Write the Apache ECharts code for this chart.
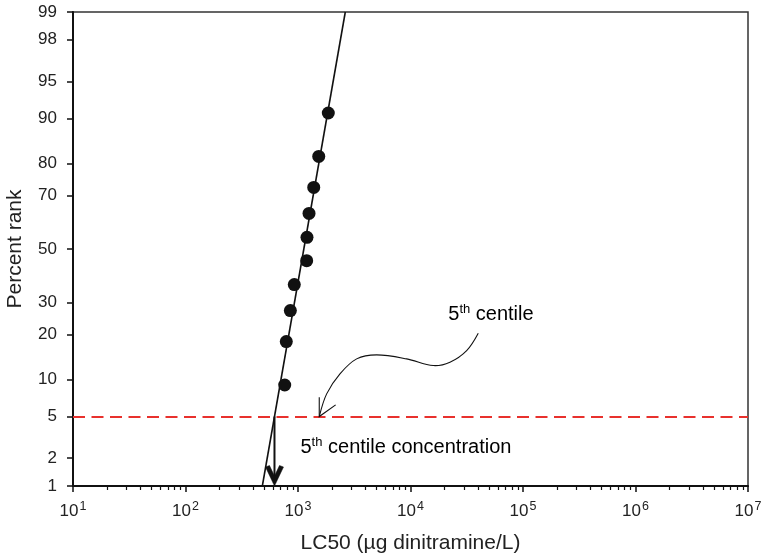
<!DOCTYPE html>
<html>
<head>
<meta charset="utf-8">
<script src="https://cdn.jsdelivr.net/npm/echarts@6/dist/echarts.min.js"></script>
<style>
html,body{margin:0;padding:0;background:#fff;}
#chart{width:763px;height:559px;}
</style>
</head>
<body>
<div id="chart"></div>
<script>
// ---- data ----
const lc50Values = [762, 787, 855, 927, 1194, 1202, 1253, 1380, 1529, 1859];   // µg dinitramine/L
const percentRanks = [9.09, 18.18, 27.27, 36.36, 45.45, 54.55, 63.64, 72.73, 81.82, 90.91];
const fitLineX = [482, 2633];       // fitted distribution line ends
const fitLineP = [1, 99];
const yTickPercents = [1, 2, 5, 10, 20, 30, 50, 70, 80, 90, 95, 98, 99];
const xTickExponents = [1, 2, 3, 4, 5, 6, 7];
const centilePercent = 5;
const hc5Value = 618;                // 5th centile concentration
const calloutTip = [1545, 5];        // where the curved arrow points (x, percent)

// inverse normal CDF (probability axis transform)
function probit(p) {
  const a = [-3.969683028665376e+01, 2.209460984245205e+02, -2.759285104469687e+02, 1.383577518672690e+02, -3.066479806614716e+01, 2.506628277459239e+00];
  const b = [-5.447609879822406e+01, 1.615858368580409e+02, -1.556989798598866e+02, 6.680131188771972e+01, -1.328068155288572e+01];
  const c = [-7.784894002430293e-03, -3.223964580411365e-01, -2.400758277161838e+00, -2.549732539343734e+00, 4.374664141464968e+00, 2.938163982698783e+00];
  const d = [7.784695709041462e-03, 3.224671290700398e-01, 2.445134137142996e+00, 3.754408661907416e+00];
  const pl = 0.02425, ph = 1 - pl;
  let q, r;
  if (p < pl) { q = Math.sqrt(-2 * Math.log(p)); return (((((c[0]*q+c[1])*q+c[2])*q+c[3])*q+c[4])*q+c[5]) / ((((d[0]*q+d[1])*q+d[2])*q+d[3])*q+1); }
  if (p <= ph) { q = p - 0.5; r = q*q; return (((((a[0]*r+a[1])*r+a[2])*r+a[3])*r+a[4])*r+a[5])*q / (((((b[0]*r+b[1])*r+b[2])*r+b[3])*r+b[4])*r+1); }
  q = Math.sqrt(-2 * Math.log(1 - p)); return -(((((c[0]*q+c[1])*q+c[2])*q+c[3])*q+c[4])*q+c[5]) / ((((d[0]*q+d[1])*q+d[2])*q+d[3])*q+1);
}
const z = pct => probit(pct / 100);

const yTickZ = yTickPercents.map(z);
const minorLog = [];
xTickExponents.slice(0, -1).forEach(e => { for (let k = 2; k <= 9; k++) minorLog.push(e + Math.log10(k)); });

const FONT = "'Liberation Sans', Arial, Helvetica, sans-serif";
const TXT = '#222';

const chart = echarts.init(document.getElementById('chart'), null, {renderer: 'canvas'});
const yMin = z(1), yMax = z(99);

chart.setOption({
  animation: false,
  backgroundColor: '#fff',
  textStyle: {fontFamily: FONT},
  grid: {left: 73, right: 15, top: 12, bottom: 73, containLabel: false, outerBoundsMode: 'none',
         show: true, borderColor: '#333', borderWidth: 1.5},
  xAxis: [{
    type: 'log', logBase: 10, min: 10, max: 1e7,
    name: 'LC50 (µg dinitramine/L)', nameLocation: 'middle', nameGap: 47,
    nameTextStyle: {fontSize: 21, color: TXT, fontFamily: FONT},
    axisLine: {show: true, onZero: false, lineStyle: {color: '#111', width: 2}},
    axisTick: {show: true, length: 6, lineStyle: {color: '#111', width: 1.5}},
    splitLine: {show: false},
    axisLabel: {
      margin: 14, color: TXT,
      formatter: v => '{b|10}{s|' + Math.round(Math.log10(v)) + '}',
      rich: {
        b: {fontSize: 17, fontFamily: FONT, color: TXT},
        s: {fontSize: 12.5, fontFamily: FONT, color: TXT, padding: [0, 0, 10, 1]}
      }
    }
  }, {
    type: 'value', min: 1, max: 7, position: 'bottom', offset: 0,
    axisLine: {show: false, onZero: false}, axisLabel: {show: false}, splitLine: {show: false},
    axisTick: {show: true, length: 4, customValues: minorLog, lineStyle: {color: '#111', width: 1.2}}
  }],
  yAxis: {
    type: 'value', min: yMin, max: yMax,
    name: 'Percent rank', nameLocation: 'middle', nameGap: 47,
    nameTextStyle: {fontSize: 21, color: TXT, fontFamily: FONT},
    axisLine: {show: true, onZero: false, lineStyle: {color: '#111', width: 2}},
    axisTick: {show: true, length: 6, customValues: yTickZ, lineStyle: {color: '#111', width: 1.5}},
    splitLine: {show: false},
    axisLabel: {
      margin: 16, fontSize: 17, color: TXT, fontFamily: FONT, customValues: yTickZ,
      formatter: v => {
        let best = 0;
        yTickZ.forEach((t, i) => { if (Math.abs(t - v) < Math.abs(yTickZ[best] - v)) best = i; });
        return String(yTickPercents[best]);
      }
    }
  },
  series: [{
    type: 'line', xAxisIndex: 0,
    data: fitLineX.map((x, i) => [x, z(fitLineP[i])]),
    showSymbol: false, symbol: 'none',
    lineStyle: {color: '#111', width: 1.6},
    z: 3
  }, {
    type: 'scatter', xAxisIndex: 0,
    data: lc50Values.map((x, i) => [x, z(percentRanks[i])]),
    symbol: 'circle', symbolSize: 13,
    itemStyle: {color: '#111', opacity: 1},
    z: 4,
    markLine: {
      silent: true, animation: false,
      label: {show: false},
      symbol: 'none',
      data: [
        [{coord: [10, z(centilePercent)], lineStyle: {color: '#e8312d', width: 2, type: [12, 6.5]}},
         {coord: [1e7, z(centilePercent)]}]
      ]
    }
  }]
});

// annotations anchored in data coordinates
function drawAnnotations() {
  const tip = chart.convertToPixel({xAxisIndex: 0, yAxisIndex: 0}, [calloutTip[0], z(calloutTip[1])]);
  const hc5 = chart.convertToPixel({xAxisIndex: 0, yAxisIndex: 0}, [hc5Value, z(centilePercent)]);
  const hc5Bottom = chart.convertToPixel({xAxisIndex: 0, yAxisIndex: 0}, [hc5Value, z(1)]);
  const curve = [[159, -83.4], [147.4, -66], [130.7, -54.4], [114, -51], [87.4, -57.7], [57.4, -61.7], [37.4, -57.7], [20.7, -42.7], [7.4, -22.7], [0, 0]];
  const head = [[0, -19.4], [0, 0], [16.4, -11.7]];
  const arrowHead = [[0, 0], [-9, -19], [-5, -20.5], [0, -10], [5, -20.5], [9, -19]];
  const rich = {
    a: {fontSize: 20, fontFamily: FONT, color: TXT},
    s: {fontSize: 13, fontFamily: FONT, color: TXT, padding: [0, 0, 10, 0]}
  };
  chart.setOption({
    graphic: [
      {type: 'polyline', shape: {points: curve.map(p => [tip[0] + p[0], tip[1] + p[1]]), smooth: 0.35},
       style: {stroke: '#111', lineWidth: 1.1, fill: null}, z: 10},
      {type: 'polyline', shape: {points: head.map(p => [tip[0] + p[0], tip[1] + p[1]])},
       style: {stroke: '#111', lineWidth: 1.1, fill: null}, z: 10},
      {type: 'line', shape: {x1: hc5[0], y1: hc5[1], x2: hc5Bottom[0], y2: hc5Bottom[1] - 3},
       style: {stroke: '#111', lineWidth: 2}, z: 10},
      {type: 'polygon', shape: {points: arrowHead.map(p => [hc5Bottom[0] + p[0], hc5Bottom[1] + p[1]])},
       style: {fill: '#111', stroke: '#111', lineWidth: 0.5, lineJoin: 'miter'}, z: 10},
      {type: 'text', x: tip[0] + 129, y: tip[1] - 102,
       style: {text: '{a|5}{s|th}{a| centile}', rich: rich, verticalAlign: 'middle', align: 'left'}, z: 10},
      {type: 'text', x: hc5[0] + 26, y: hc5[1] + 31,
       style: {text: '{a|5}{s|th}{a| centile concentration}', rich: rich, verticalAlign: 'middle', align: 'left'}, z: 10}
    ]
  });
}
drawAnnotations();
</script>
</body>
</html>
